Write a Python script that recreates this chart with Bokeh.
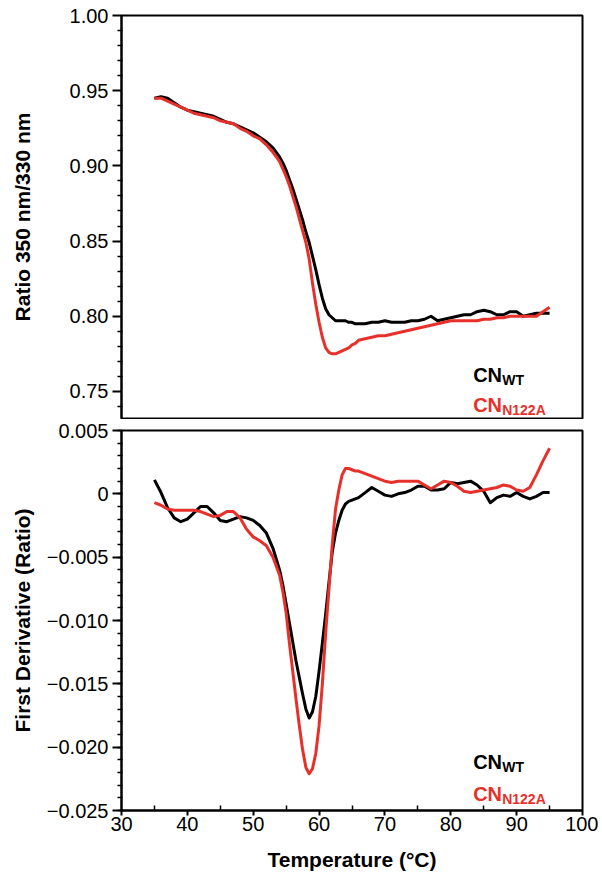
from bokeh.plotting import figure
from bokeh.layouts import column
from bokeh.models import Range1d, FixedTicker, CustomJSTickFormatter, ColumnDataSource
from bokeh.core.properties import value
from bokeh.embed import file_html
from bokeh.resources import INLINE

# ---------------- data ----------------
temperature = [35, 36, 37, 38, 39, 40, 41, 42, 43, 44, 45, 46, 47, 48, 49, 50, 51, 52, 53,
               54, 54.5, 55, 55.5, 56, 56.5, 57, 57.5, 58, 58.5, 59, 59.5, 60, 60.5, 61, 61.5,
               62, 62.5, 63, 63.5, 64, 64.5, 65, 65.5, 66,
               67, 68, 69, 70, 71, 72, 73, 74, 75, 76, 77, 78, 79, 80, 81, 82, 83, 84, 85,
               86, 87, 88, 89, 90, 91, 92, 93, 94, 95]

ratio_wt = [0.945, 0.946, 0.945, 0.942, 0.939, 0.937, 0.936, 0.935, 0.934, 0.933, 0.931,
            0.929, 0.928, 0.926, 0.924, 0.922, 0.919, 0.916, 0.912,
            0.906, 0.902, 0.897, 0.891, 0.885, 0.878, 0.871, 0.864, 0.856, 0.849, 0.840,
            0.831, 0.821, 0.812, 0.805, 0.801, 0.799, 0.797, 0.797, 0.797, 0.797, 0.796,
            0.796, 0.795, 0.795,
            0.795, 0.796, 0.796, 0.797, 0.796, 0.796, 0.796, 0.797, 0.797, 0.798, 0.800,
            0.797, 0.798, 0.799, 0.800, 0.801, 0.801, 0.803, 0.804,
            0.803, 0.801, 0.801, 0.803, 0.803, 0.800, 0.801, 0.802, 0.802, 0.802]

ratio_n122a = [0.945, 0.945, 0.943, 0.941, 0.939, 0.937, 0.935, 0.934, 0.933, 0.932, 0.930,
               0.929, 0.928, 0.925, 0.923, 0.920, 0.918, 0.914, 0.909,
               0.903, 0.898, 0.893, 0.887, 0.880, 0.873, 0.865, 0.857, 0.849, 0.838, 0.822,
               0.808, 0.796, 0.786, 0.779, 0.776, 0.775, 0.775, 0.776, 0.777, 0.778, 0.779,
               0.781, 0.782, 0.784,
               0.785, 0.786, 0.787, 0.787, 0.788, 0.789, 0.790, 0.791, 0.792, 0.793, 0.794,
               0.795, 0.796, 0.797, 0.797, 0.797, 0.797, 0.797, 0.798,
               0.798, 0.799, 0.799, 0.800, 0.800, 0.800, 0.800, 0.800, 0.803, 0.806]

deriv_wt = [0.0011, 0.0001, -0.0011, -0.0019, -0.0022, -0.0020, -0.0015, -0.0010, -0.0010,
            -0.0015, -0.0021, -0.0022, -0.0020, -0.0018, -0.0019, -0.0021, -0.0025, -0.0031,
            -0.0043,
            -0.0060, -0.0072, -0.0087, -0.0102, -0.0117, -0.0132, -0.0145, -0.0158, -0.0170,
            -0.0177, -0.0172, -0.0160, -0.0140, -0.0118, -0.0095, -0.0070, -0.0046, -0.0031,
            -0.0021, -0.0013, -0.0008, -0.0006, -0.0005, -0.0004, -0.0003,
            0.0001, 0.0005, 0.0002, -0.0001, -0.0002, 0.0000, 0.0001, 0.0003, 0.0006, 0.0006,
            0.0003, 0.0003, 0.0004, 0.0009, 0.0008, 0.0009, 0.0010, 0.0007, 0.0002,
            -0.0007, -0.0003, -0.0001, -0.0002, 0.0001, -0.0002, -0.0004, -0.0002, 0.0001,
            0.0001]

deriv_n122a = [-0.0007, -0.0009, -0.0012, -0.0013, -0.0013, -0.0013, -0.0013, -0.0014,
               -0.0016, -0.0018, -0.0017, -0.0014, -0.0014, -0.0019, -0.0028, -0.0034,
               -0.0037, -0.0041, -0.0050,
               -0.0064, -0.0077, -0.0094, -0.0118, -0.0140, -0.0162, -0.0183, -0.0202,
               -0.0216, -0.0221, -0.0217, -0.0205, -0.0183, -0.0150, -0.0110, -0.0075,
               -0.0040, -0.0012, 0.0003, 0.0015, 0.0020, 0.0020, 0.0019, 0.0018, 0.0018,
               0.0016, 0.0014, 0.0012, 0.0010, 0.0009, 0.0010, 0.0010, 0.0010, 0.0010, 0.0007,
               0.0004, 0.0007, 0.0010, 0.0009, 0.0006, 0.0002, 0.0001, 0.0002, 0.0003,
               0.0004, 0.0005, 0.0007, 0.0006, 0.0003, 0.0002, 0.0005, 0.0015, 0.0026, 0.0036]

x_ticks = [30, 40, 50, 60, 70, 80, 90, 100]
x_minor = [35, 45, 55, 65, 75, 85, 95]
top_ticks = [0.75, 0.80, 0.85, 0.90, 0.95, 1.00]
bottom_ticks = [-0.025, -0.020, -0.015, -0.010, -0.005, 0.0, 0.005]

legend_main = ["CN", "CN"]
legend_sub = ["WT", "N122A"]
legend_colors = ["#000000", "#E8302A"]

# ---------------- styling ----------------
FONT = "Liberation Sans"
RED = "#E8302A"
top_minor = [round(0.74 + 0.01 * i, 3) for i in range(26) if round(0.74 + 0.01 * i, 3) not in top_ticks]
bot_minor = [round(-0.025 + 0.001 * i, 4) for i in range(31)]


def style_y(ax, standoff):
    ax.axis_line_width = 2
    ax.axis_line_color = "black"
    ax.major_tick_line_width = 2
    ax.minor_tick_line_width = 1.5
    ax.major_tick_out = 9
    ax.major_tick_in = 0
    ax.minor_tick_out = 4
    ax.minor_tick_in = 1
    ax.major_label_text_font = FONT
    ax.major_label_text_font_size = "20px"
    ax.major_label_text_color = "black"
    ax.major_label_standoff = 4
    ax.axis_label_text_font = FONT
    ax.axis_label_text_font_size = "21px"
    ax.axis_label_text_font_style = "bold"
    ax.axis_label_text_color = "black"
    ax.axis_label_standoff = standoff


def style_fig(p):
    p.grid.visible = False
    p.outline_line_color = "black"
    p.outline_line_width = 2
    p.outline_line_alpha = 1
    p.background_fill_color = "white"
    p.border_fill_color = "white"


# ---------------- top panel ----------------
p1 = figure(width=598, height=419, output_backend="svg", toolbar_location=None,
            x_range=Range1d(30, 100), y_range=Range1d(0.732, 1.0),
            x_axis_location=None, min_border_left=121, min_border_right=16,
            min_border_top=15, min_border_bottom=1)
style_fig(p1)
p1.yaxis.ticker = FixedTicker(ticks=top_ticks, minor_ticks=top_minor)
p1.yaxis.formatter = CustomJSTickFormatter(code="return tick.toFixed(2);")
p1.yaxis.axis_label = "Ratio 350 nm/330 nm"
style_y(p1.yaxis[0], 33)

p1.line(temperature, ratio_wt, line_color="black", line_width=3, line_join="round")
p1.line(temperature, ratio_n122a, line_color=RED, line_width=3, line_join="round")

leg_top = ColumnDataSource(dict(x=[83.4, 83.4], y=[0.7606, 0.7407],
                                main=legend_main, sub=legend_sub, color=legend_colors))
p1.text(x="x", y="y", text="main", source=leg_top, text_color="color",
        text_font=value(FONT), text_font_style="bold", text_font_size="20px",
        text_baseline="alphabetic", text_align="left")
p1.text(x="x", y="y", text="sub", source=leg_top, text_color="color",
        text_font=value(FONT), text_font_style="bold", text_font_size="14px",
        text_baseline="alphabetic", text_align="left", x_offset=29, y_offset=5)

# ---------------- bottom panel ----------------
p2 = figure(width=598, height=459, output_backend="svg", toolbar_location=None,
            x_range=Range1d(30, 100), y_range=Range1d(-0.025, 0.005),
            min_border_left=121, min_border_right=16, min_border_top=11, min_border_bottom=68)
style_fig(p2)
p2.yaxis.ticker = FixedTicker(ticks=bottom_ticks, minor_ticks=bot_minor)
p2.yaxis.formatter = CustomJSTickFormatter(code="""
if (Math.abs(tick) < 1e-9) { return "0"; }
const s = Math.abs(tick).toFixed(3);
return (tick < 0 ? "\u2212" : "") + s;
""")
p2.yaxis.axis_label = "First Derivative (Ratio)"
style_y(p2.yaxis[0], 10)

xa = p2.xaxis[0]
xa.ticker = FixedTicker(ticks=x_ticks, minor_ticks=x_minor)
xa.axis_line_width = 2
xa.major_tick_line_width = 2
xa.minor_tick_line_width = 1.5
xa.major_tick_out = 5
xa.major_tick_in = 0
xa.minor_tick_out = 0
xa.minor_tick_in = 5
xa.major_label_text_font = FONT
xa.major_label_text_font_size = "20px"
xa.major_label_text_color = "black"
xa.major_label_standoff = 1
xa.axis_label = "Temperature (°C)"
xa.axis_label_text_font = FONT
xa.axis_label_text_font_size = "21px"
xa.axis_label_text_font_style = "bold"
xa.axis_label_text_color = "black"
xa.axis_label_standoff = 14

p2.line(temperature, deriv_wt, line_color="black", line_width=3, line_join="round")
p2.line(temperature, deriv_n122a, line_color=RED, line_width=3, line_join="round")

leg_bot = ColumnDataSource(dict(x=[83.4, 83.4], y=[-0.02121, -0.02366],
                                main=legend_main, sub=legend_sub, color=legend_colors))
p2.text(x="x", y="y", text="main", source=leg_bot, text_color="color",
        text_font=value(FONT), text_font_style="bold", text_font_size="20px",
        text_baseline="alphabetic", text_align="left")
p2.text(x="x", y="y", text="sub", source=leg_bot, text_color="color",
        text_font=value(FONT), text_font_style="bold", text_font_size="14px",
        text_baseline="alphabetic", text_align="left", x_offset=29, y_offset=5)

layout = column(p1, p2, spacing=0)
open("out.html", "w").write(file_html(layout, INLINE))
